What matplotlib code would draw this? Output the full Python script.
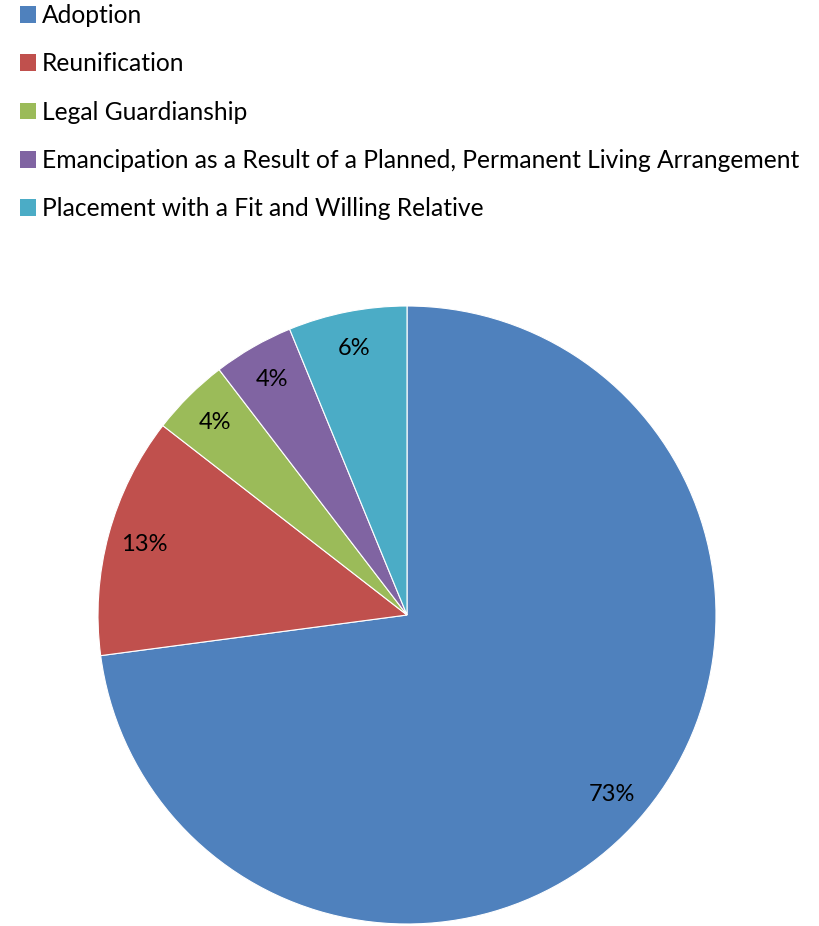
import matplotlib
matplotlib.use("Agg")
import matplotlib.pyplot as plt
from matplotlib.patches import Patch

categories = ["Adoption", "Reunification", "Legal Guardianship",
              "Emancipation as a Result of a Planned, Permanent Living Arrangement",
              "Placement with a Fit and Willing Relative"]
values = [72.9, 12.6, 4.1, 4.2, 6.2]
colors = ["#4F81BD", "#C0504D", "#9BBB59", "#8064A2", "#4BACC6"]

plt.rcParams['font.family'] = ['Lato', 'DejaVu Sans']

fig = plt.figure(figsize=(8.2, 9.26), dpi=100)
ax = fig.add_axes([98/820, 2/926, 618/820, 618/926])
wedges, texts, autotexts = ax.pie(values, colors=colors, startangle=90, counterclock=False,
                                  autopct=lambda p: f"{p:.0f}%", pctdistance=0.88,
                                  radius=1, wedgeprops=dict(linewidth=0.8, edgecolor="white"),
                                  textprops=dict(fontsize=17, color="black"))
ax.set_xlim(-1, 1)
ax.set_ylim(-1, 1)
ax.set_aspect("equal")
ax.axis("off")

handles = [Patch(facecolor=c, edgecolor="none") for c in colors]
fig.legend(handles, categories, loc="upper left", bbox_to_anchor=(20/820, 1 - 4/926),
           frameon=False, fontsize=17.7, handlelength=0.65, handleheight=0.65,
           handletextpad=0.25, labelspacing=1.03, borderaxespad=0, borderpad=0)

fig.savefig("out.png", dpi=100)
